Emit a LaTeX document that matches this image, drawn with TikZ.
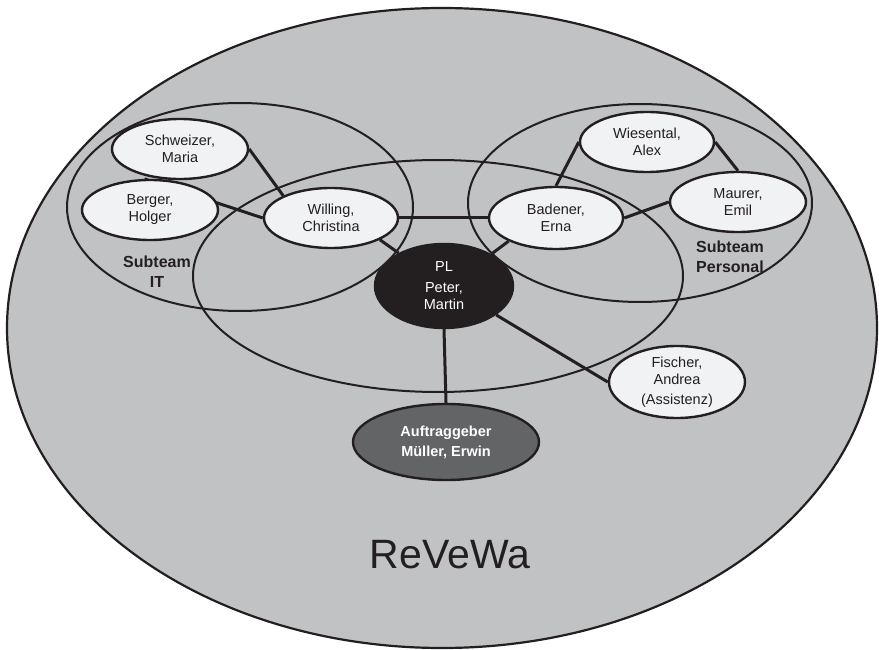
\documentclass[tikz,border=0pt]{standalone}
\usepackage{fontspec}
\setmainfont{Liberation Sans}
\usetikzlibrary{shapes.geometric}
\definecolor{bggray}{HTML}{C1C2C4}
\definecolor{nodefill}{HTML}{F1F2F4}
\definecolor{ink}{HTML}{231F20}
\definecolor{clientfill}{HTML}{636466}
\pgfdeclarelayer{back}
\pgfdeclarelayer{lines}
\pgfsetlayers{back,lines,main}
\begin{document}
\begin{tikzpicture}[x=1pt,y=-1pt,
  person/.style={ellipse,draw=ink,line width=2.4pt,fill=nodefill,inner sep=0pt,
    text=ink,align=center,font=\fontsize{14.5}{17}\selectfont},
  leader/.style={person,fill=ink,text=white},
  client/.style={person,fill=clientfill,text=white,font=\fontsize{14.5}{20}\selectfont\bfseries},
  link/.style={draw=ink,line width=3pt},
  team/.style={draw=ink,line width=2pt},
  teamlabel/.style={text=ink,align=center,font=\fontsize{16}{20}\selectfont\bfseries}]
\useasboundingbox (0,0) rectangle (879,650);
\begin{pgfonlayer}{back}
% whole project
\draw[draw=ink,line width=2.2pt,fill=bggray] (442,328) ellipse [x radius=435pt,y radius=320pt];
% team circles
\draw[team] (240,207) ellipse [x radius=173pt,y radius=104pt];
\draw[team] (640,203) ellipse [x radius=172pt,y radius=99pt];
\draw[team] (438,276) ellipse [x radius=245pt,y radius=116pt];
% labels
\node[teamlabel] (lit) at (157,272) {Subteam\\IT};
\node[teamlabel] (lpers) at (730,257) {Subteam\\Personal};
\node[text=ink,font=\fontsize{41}{41}\selectfont] (title) at (450,555) {ReVeWa};
\end{pgfonlayer}
% nodes
\node[person,minimum width=136pt,minimum height=60pt] (sch) at (180,149) {Schweizer,\\Maria};
\node[person,minimum width=136pt,minimum height=60pt] (ber) at (150,210) {Berger,\\Holger};
\node[person,minimum width=134pt,minimum height=60pt] (wil) at (331,218) {Willing,\\Christina};
\node[person,minimum width=134pt,minimum height=60pt] (wie) at (647,142) {Wiesental,\\Alex};
\node[person,minimum width=136pt,minimum height=60pt] (mau) at (738,202) {Maurer,\\Emil};
\node[person,minimum width=134pt,minimum height=62pt] (bad) at (556,218) {Badener,\\Erna};
\node[leader,minimum width=138pt,minimum height=84pt] (pl) at (444,286) {PL\\[4pt]Peter,\\Martin};
\node[person,minimum width=136pt,minimum height=72pt] (fis) at (677,382) {Fischer,\\Andrea\\[3pt](Assistenz)};
\node[client,minimum width=186pt,minimum height=76pt] (auf) at (446,442) {Auftraggeber\\Müller, Erwin};
% connectors (behind nodes)
\begin{pgfonlayer}{lines}
\draw[link] (sch.east) -- (wil.155);
\draw[link] (ber.100) -- (wil.west);
\draw[link] (wil.east) -- (bad.west);
\draw[link] (wil.336) -- (pl.144);
\draw[link] (bad.206) -- (pl.34);
\draw[link] (bad.north) -- (wie.west);
\draw[link] (wie.east) -- (mau.north);
\draw[link] (bad.east) -- (mau.west);
\draw[link] (pl.south) -- (auf.north);
\draw[link] (pl.331) -- (fis.west);
\end{pgfonlayer}
\end{tikzpicture}
\end{document}
